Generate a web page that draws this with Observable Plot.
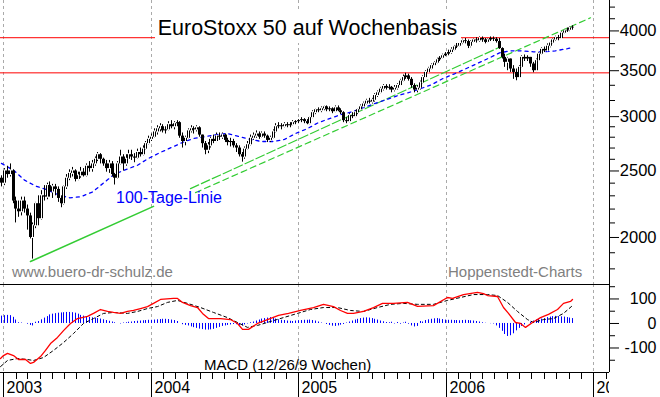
<!DOCTYPE html>
<html><head><meta charset="utf-8">
<script src="https://cdn.jsdelivr.net/npm/d3@7"></script>
<script src="https://cdn.jsdelivr.net/npm/@observablehq/plot@0.6"></script>
<style>
html,body{margin:0;padding:0;background:#fff;}
#chart{position:relative;width:660px;height:397px;overflow:hidden;font-family:"Liberation Sans",Arial,sans-serif;}
#chart .layer{position:absolute;left:0;}
</style></head><body><div id="chart"></div>
<script>
// ---------- DATA ----------
// weekly candles, week index -1 = 2002-12-27, 0 = 2003-01-03 ... 201 = 2006-11-10
const firstOpen = 2440;
const closes = [2400,
2500,2470,2500,2260,2200,2180,2260,2200,2150,2000,
2080,2240,2130,2300,2290,2380,2330,2370,2350,2280,
2240,2370,2440,2480,2500,2430,2460,2490,2460,2540,
2520,2560,2600,2640,2600,2560,2520,2560,2470,2440,
2560,2620,2560,2600,2640,2620,2610,2660,2640,2690,
2740,2780,2800,2850,2880,2900,2860,2870,2920,2900,
2930,2940,2810,2760,2790,2860,2880,2870,2890,2820,
2740,2680,2720,2780,2760,2810,2800,2820,2770,2750,
2760,2720,2700,2640,2620,2690,2730,2790,2810,2830,
2800,2830,2810,2770,2790,2850,2900,2910,2900,2920,
2910,2920,2940,2950,2960,2970,2950,2930,2990,3040,
3070,3060,3080,3100,3070,3080,3050,3090,3060,3040,
2960,2950,3010,3000,3040,3070,3100,3130,3160,3150,
3170,3220,3250,3290,3320,3300,3310,3280,3300,3330,
3380,3420,3440,3400,3330,3280,3300,3360,3420,3480,
3520,3560,3590,3630,3650,3680,3700,3720,3750,3790,
3800,3840,3870,3860,3800,3850,3880,3870,3900,3880,
3850,3880,3900,3890,3860,3770,3660,3600,3640,3520,
3480,3420,3540,3660,3640,3660,3580,3500,3620,3700,
3760,3740,3800,3840,3880,3910,3900,3970,4000,4010,
4040,4050];
const highs = [2460,
2520,2540,2560,2510,2290,2260,2290,2290,2230,2170,
2100,2250,2300,2340,2380,2400,2410,2390,2390,2370,
2300,2380,2470,2510,2530,2510,2490,2530,2520,2560,
2580,2590,2620,2660,2650,2610,2590,2590,2580,2480,
2580,2680,2640,2640,2680,2680,2650,2690,2700,2720,
2760,2810,2830,2880,2910,2930,2920,2900,2950,2960,
2950,2960,2950,2840,2810,2880,2910,2900,2910,2900,
2820,2760,2750,2800,2820,2840,2840,2840,2830,2790,
2790,2780,2740,2720,2660,2710,2760,2820,2840,2860,
2850,2850,2850,2820,2810,2870,2930,2940,2930,2940,
2940,2940,2960,2960,2970,2990,2980,2970,3000,3060,
3080,3090,3100,3110,3110,3100,3090,3110,3110,3080,
3050,2990,3030,3040,3060,3080,3120,3150,3180,3190,
3190,3240,3270,3310,3340,3340,3340,3320,3330,3350,
3400,3450,3470,3460,3420,3350,3330,3380,3440,3500,
3540,3580,3610,3650,3670,3700,3720,3750,3780,3810,
3840,3860,3890,3900,3880,3870,3900,3910,3920,3920,
3900,3900,3920,3920,3910,3900,3780,3700,3660,3640,
3560,3520,3560,3680,3690,3680,3660,3600,3640,3720,
3780,3790,3830,3850,3900,3930,3940,3990,4020,4040,
4060,4070];
const lows = [2370,
2380,2440,2450,2240,2100,2140,2150,2170,2050,1990,
1860,2060,2080,2120,2260,2270,2290,2280,2300,2250,
2210,2230,2350,2420,2450,2410,2420,2440,2450,2450,
2490,2490,2540,2580,2560,2540,2490,2480,2450,2385,
2430,2550,2500,2540,2600,2590,2570,2600,2620,2630,
2680,2730,2760,2790,2820,2850,2840,2830,2860,2880,
2870,2900,2790,2700,2720,2780,2840,2830,2850,2800,
2700,2640,2650,2700,2740,2750,2770,2780,2750,2720,
2710,2700,2660,2620,2575,2600,2680,2720,2770,2790,
2780,2790,2790,2750,2750,2780,2840,2880,2870,2890,
2890,2890,2910,2920,2930,2940,2930,2920,2920,2980,
3020,3040,3040,3060,3050,3050,3030,3040,3050,3020,
2940,2930,2940,2980,2990,3020,3060,3090,3120,3130,
3130,3150,3200,3240,3270,3280,3280,3250,3260,3280,
3320,3370,3400,3380,3300,3250,3250,3280,3350,3410,
3470,3510,3550,3580,3610,3640,3670,3680,3700,3740,
3770,3790,3820,3830,3770,3780,3840,3840,3850,3850,
3830,3840,3860,3860,3840,3760,3640,3540,3500,3480,
3400,3384,3410,3530,3610,3610,3540,3476,3490,3610,
3690,3720,3740,3780,3830,3860,3870,3900,3960,3980,
3990,4010];

// 100-Tage-Linie (blue dashed), by week index
const maWeek  = [-1,3,7,11,15,19,23,27,31,35,39,43,47,51,55,59,63,67,71,75,79,83,87,91,95,99,103,107,111,115,119,123,127,131,135,139,143,147,151,155,159,163,167,171,175,179,183,187,191,195,199,201];
const maValue = [2565,2506,2425,2377,2346,2307,2285,2292,2330,2401,2473,2514,2548,2608,2661,2705,2751,2788,2806,2825,2835,2806,2779,2760,2760,2779,2835,2882,2941,2980,3020,3051,3092,3134,3176,3219,3251,3295,3339,3407,3464,3522,3582,3643,3716,3742,3742,3729,3729,3742,3769,3782];

// horizontal levels (red)
const levels = [3910, 3475];

// green trend lines
const trendA = {dates: ["2003-03-07","2004-01-07"], values: [1845, 2220]};
const trendU = {dates: ["2004-04-08","2006-05-10"], values: [2356, 3781]};
const trendL = {dates: ["2004-04-20","2006-12-24"], values: [2325, 4180]};

// MACD (12/26/9)
const macdWeek  = [-1.3,-0.3,1.1,3.3,5,7.5,9.3,10.3,12.8,14.6,16.3,18.8,20.9,23.4,25.9,29.4,31.6,34,36.5,38.6,41.1,43.6,45.7,48.2,50.7,52.8,55.3,59.9,61.3,63,65.9,68.3,70.1,72.2,76.5,80,82.5,84.3,86.4,89.6,93.1,97,100.5,104.8,109.4,112.9,116.4,118.9,121.4,123.5,127.1,130.6,133.8,137.7,142.6,146.2,151.8,156.8,158.5,162.4,167.4,169.5,170.9,174.5,176.6,178.4,180.8,182.6,184.4,186.8,189.7,192.5,195.7,197.8,200.3,201];
const macdValue = [-143,-131,-122,-131,-147,-147,-163,-159,-135,-110,-82,-57,-29,0,20,29,41,57,49,45,41,49,53,61,69,82,98,102,102,86,73,65,41,20,20,16,0,-24,-24,0,16,33,41,53,65,78,69,53,41,41,49,65,82,82,86,70,73,106,102,118,127,122,114,110,65,41,4,0,-16,4,24,37,57,82,90,98];
const signalWeek  = [-1.3,1.1,4.7,8.2,10.3,13.9,17.4,20.9,24.5,28,31.6,35.1,38.6,43.6,47.1,50.7,54.2,57.7,61.3,64.8,69.4,74,79,82.5,86,89.6,94.2,98.8,103.7,108.3,112.9,117.9,122.5,127.1,132,136.6,141.2,146.2,151.8,156.8,161.4,166,170.9,174.5,178,181.5,185,187.2,190.7,194.2,197.8,201];
const signalValue = [-176,-151,-143,-147,-151,-139,-110,-78,-41,0,20,41,45,41,49,61,69,86,94,82,65,45,24,4,-16,-8,8,24,41,57,65,65,53,49,65,78,82,78,78,94,106,118,118,114,86,49,16,4,16,20,41,73];
// weekly histogram, week index -1 .. 201
const histValue = [30,32,33,32,25,14,
3,2,0,-3,-8,-10,
5,8,
15,22,28,35,
38,40,42,43,44,45,45,44,42,38,
33,30,28,
25,23,22,20,18,
15,12,9,6,3,
0,-2,2,3,
5,6,8,9,10,11,12,13,13,14,
15,16,17,17,16,14,12,8,
0,-5,-8,-10,
-14,-17,-20,-23,-25,-27,-27,-26,-24,-20,-16,
-12,-10,-8,-6,-4,-5,-8,-10,
-6,-2,3,6,
10,14,18,20,22,24,22,
18,15,13,12,10,
9,8,10,11,12,13,
13,14,12,10,6,2,
0,-4,-8,-11,
-12,-10,-7,-4,
2,6,10,14,17,20,
22,23,22,20,17,14,10,7,
4,3,5,-2,4,-3,2,5,-3,
-10,-14,-12,
8,6,12,15,
17,19,20,18,16,14,
13,13,12,12,11,12,13,12,11,10,
8,6,3,1,0,-1,-2,
-10,-20,-32,-45,-53,-50,-42,-30,-20,
-12,-6,0,5,
10,14,16,18,20,24,26,28,29,
28,27,26,24,22,20];

// axes
const priceTicks = [2000, 2500, 3000, 3500, 4000];
const priceMinorTicks = [1800,1900,2100,2200,2300,2400,2600,2700,2800,2900,3167,3333,3667,3833,4167,4333];
const macdTicks = [100, 0, -100];
const macdMinorTicks = [150, 50, -50, -150];
const yearTicks = [2003, 2004, 2005, 2006, 2007];

// ---------- BUILD ----------
const DAY = 864e5;
const week0 = Date.UTC(2003, 0, 3);
const weekDate = i => new Date(week0 + i * 7 * DAY);
const utc = s => new Date(s + "T00:00:00Z");
const xDomain = [new Date(Date.UTC(2002, 11, 23, 20)), new Date(Date.UTC(2007, 1, 9))];
const yearDates = yearTicks.map(y => new Date(Date.UTC(y, 0, 1)));
const monthDates = d3.utcMonth.range(new Date(Date.UTC(2003, 0, 1)), xDomain[1]);

const candles = closes.map((c, k) => ({
  date: weekDate(k - 1), open: k ? closes[k - 1] : firstOpen, close: c, high: highs[k], low: lows[k]
}));
const up = candles.filter(d => d.close >= d.open);
const down = candles.filter(d => d.close < d.open);
const ma = maWeek.map((w, k) => ({date: weekDate(w), v: maValue[k]}));
const trend = t => t.dates.map((d, k) => ({date: utc(d), v: t.values[k]}));
const macd = macdWeek.map((w, k) => ({date: weekDate(w), v: macdValue[k]}));
const signal = signalWeek.map((w, k) => ({date: weekDate(w), v: signalValue[k]}));
const hist = histValue.map((v, k) => ({date: weekDate(k - 1), v}));

const font = '"Liberation Sans", Arial, sans-serif';
const baseStyle = {fontFamily: font, fontSize: "16px", background: "transparent", overflow: "visible"};
const grid = {stroke: "#aaaaaa", strokeDasharray: "3,3", strokeWidth: 1};

const main = Plot.plot({
  width: 660, height: 284, marginLeft: 0, marginRight: 51, marginTop: 0, marginBottom: 0,
  style: baseStyle,
  x: {type: "utc", domain: xDomain, axis: null, round: true},
  y: {type: "log", domain: [1708, 4430], label: null},
  marks: [
    Plot.ruleX(yearDates, {...grid}),
    Plot.ruleY(levels, {stroke: "#ff0000", strokeWidth: 1}),
    Plot.line(trend(trendA), {x: "date", y: "v", stroke: "#33cc33", strokeWidth: 1.6}),
    Plot.line(trend(trendU), {x: "date", y: "v", stroke: "#33cc33", strokeWidth: 1.2, strokeDasharray: "9,3"}),
    Plot.line(trend(trendL), {x: "date", y: "v", stroke: "#33cc33", strokeWidth: 1.2, strokeDasharray: "6,4"}),
    Plot.line(ma, {x: "date", y: "v", stroke: "#0000ff", strokeWidth: 1.3, strokeDasharray: "3,4"}),
    Plot.ruleX(candles, {x: "date", y1: "low", y2: "high", stroke: "black", strokeWidth: 1}),
    Plot.ruleX(down, {x: "date", y1: "open", y2: "close", stroke: "black", strokeWidth: 3}),
    Plot.ruleX(up, {x: "date", y1: "open", y2: "close", stroke: "black", strokeWidth: 3}),
    Plot.ruleX(up.filter(d => d.close / d.open > 1.006), {x: "date", y1: "open", y2: "close", stroke: "white", strokeWidth: 1, insetTop: 1, insetBottom: 1}),
    Plot.ruleX([xDomain[1]], {stroke: "black"}),
    Plot.axisY(priceMinorTicks, {anchor: "right", tickSize: 5, tickFormat: () => ""}),
    Plot.axisY(priceTicks, {anchor: "right", tickSize: 9, tickFormat: () => ""}),
    Plot.text(priceTicks, {y: d => d, text: d => String(d), frameAnchor: "right", dx: 47, textAnchor: "end", fontSize: 16.5, fill: "black"})
  ]
});

const macdPlot = Plot.plot({
  width: 660, height: 89, marginLeft: 0, marginRight: 51, marginTop: 0, marginBottom: 1,
  style: baseStyle,
  x: {type: "utc", domain: xDomain, axis: null, round: true},
  y: {domain: [-200, 159], label: null},
  marks: [
    Plot.ruleX(yearDates, {...grid}),
    Plot.ruleX(hist, {x: "date", y1: 0, y2: "v", stroke: "#0000ff", strokeWidth: 1}),
    Plot.line(signal, {x: "date", y: "v", stroke: "black", strokeWidth: 1, strokeDasharray: "3,3"}),
    Plot.line(macd, {x: "date", y: "v", stroke: "#ff0000", strokeWidth: 1.3}),
    Plot.ruleY([159, -200], {stroke: "black"}),
    Plot.ruleX([xDomain[1]], {stroke: "black"}),
    Plot.axisY(macdMinorTicks, {anchor: "right", tickSize: 5, tickFormat: () => ""}),
    Plot.axisY(macdTicks, {anchor: "right", tickSize: 9, tickFormat: () => ""}),
    Plot.text(macdTicks, {y: d => d, text: d => String(d), frameAnchor: "right", dx: 47, textAnchor: "end", fontSize: 16, fill: "black"})
  ]
});

const axisPlot = Plot.plot({
  width: 609, height: 24, marginLeft: 0, marginRight: 0, marginTop: 0, marginBottom: 0,
  style: {...baseStyle, overflow: "hidden"},
  x: {type: "utc", domain: xDomain, axis: null, round: true},
  y: {domain: [0, 24], range: [0, 24], axis: null},
  marks: [
    Plot.ruleX(monthDates, {x: d => d, y1: 0, y2: 6, stroke: "black"}),
    Plot.ruleX(yearDates, {x: d => d, y1: 0, y2: 24, stroke: "black"}),
    Plot.text(yearDates, {x: d => d, y: 14, text: d => String(d.getUTCFullYear()), dx: 3, textAnchor: "start", fontSize: 16, fill: "black"})
  ]
});

const chart = document.getElementById("chart");
function place(node, top, w, h) {
  const wrap = document.createElement("div");
  wrap.className = "layer";
  wrap.style.top = top + "px";
  wrap.style.width = w + "px";
  wrap.style.height = h + "px";
  wrap.style.overflow = "hidden";
  wrap.appendChild(node);
  chart.appendChild(wrap);
}
place(main, 0, 660, 284);
place(macdPlot, 284, 660, 89);
place(axisPlot, 373, 609, 24);

// annotation texts
const ns = "http://www.w3.org/2000/svg";
const ov = document.createElementNS(ns, "svg");
ov.setAttribute("width", 660); ov.setAttribute("height", 397);
ov.setAttribute("class", "layer");
ov.style.top = "0px"; ov.style.pointerEvents = "none";
ov.setAttribute("font-family", font);
const rect = document.createElementNS(ns, "rect");
rect.setAttribute("x", 155); rect.setAttribute("y", 12); rect.setAttribute("width", 306); rect.setAttribute("height", 31);
rect.setAttribute("fill", "white");
ov.appendChild(rect);
function addText(str, x, y, size, fill, anchor) {
  const t = document.createElementNS(ns, "text");
  t.setAttribute("x", x); t.setAttribute("y", y);
  t.setAttribute("font-size", size); t.setAttribute("fill", fill);
  if (anchor) t.setAttribute("text-anchor", anchor);
  t.textContent = str;
  ov.appendChild(t);
}
addText("EuroStoxx 50 auf Wochenbasis", 307.5, 35, 21.5, "black", "middle");
addText("100-Tage-Linie", 116, 203, 16, "#0000ff");
addText("www.buero-dr-schulz.de", 12, 277, 15, "#808080");
addText("Hoppenstedt-Charts", 448, 277, 15, "#808080");
addText("MACD (12/26/9 Wochen)", 204, 370, 15, "black");
chart.appendChild(ov);
</script>
</body></html>
